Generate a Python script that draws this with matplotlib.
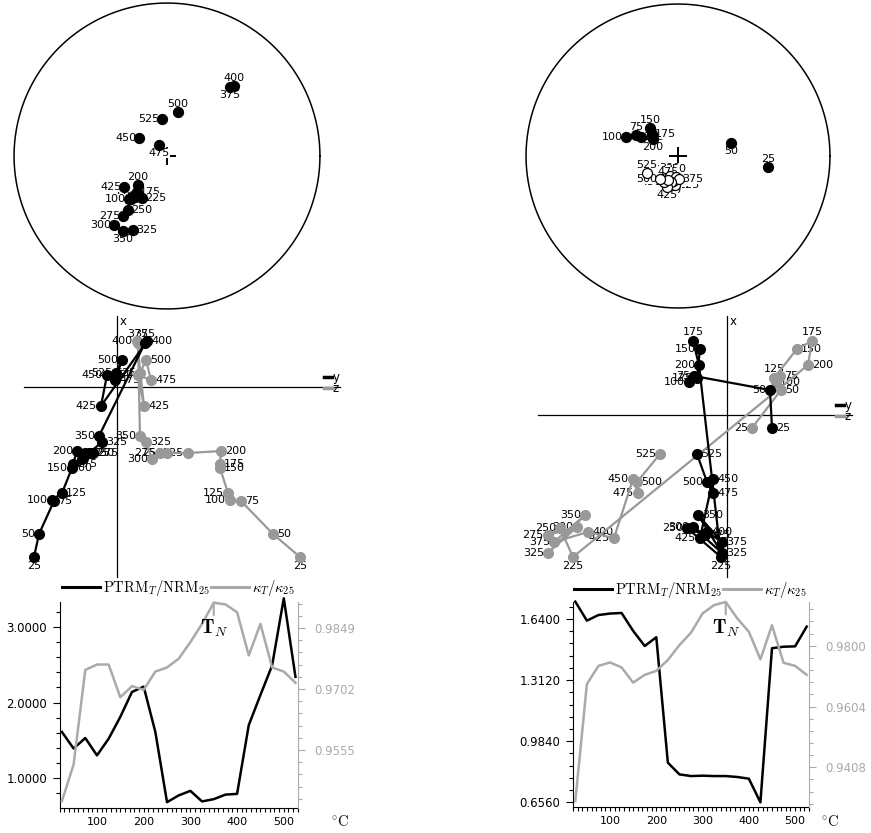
import numpy as np
import matplotlib
matplotlib.use("Agg")
import matplotlib.pyplot as plt
from matplotlib.lines import Line2D
from matplotlib.ticker import MultipleLocator, FormatStrFormatter

plt.rcParams['font.family'] = ['DejaVu Sans']
plt.rcParams['mathtext.fontset'] = 'cm'

W, H = 871, 833
GRAY_Z = '#999999'
GRAY_K = '#aaaaaa'

# demagnetisation steps (deg C)
temps = [25, 50, 75, 100, 125, 150, 175, 200, 225, 250, 275,
         300, 325, 350, 375, 400, 425, 450, 475, 500, 525]

# ---- stereonets: projected (east, north), unit = net radius ----
netL_e = [-0.190, -0.222, -0.235, -0.248, -0.209, -0.203, -0.196, -0.190, -0.163, -0.255, -0.288,
          -0.346, -0.222, -0.288, 0.412, 0.438, -0.281, -0.183, -0.052, 0.072, -0.033]
netL_n = [-0.261, -0.261, -0.281, -0.281, -0.268, -0.248, -0.235, -0.190, -0.275, -0.353, -0.392,
          -0.451, -0.484, -0.490, 0.451, 0.458, -0.203, 0.118, 0.072, 0.288, 0.242]
netL_down = [True] * 21
netL_lab = ['r', 'l', 'l', 'l', 'r', 'r', 'r', 't', 'r', 'r', 'l',
            'l', 'r', 'b', 'b', 't', 'l', 'l', 'b', 't', 'l']

netR_e = [0.592, 0.349, -0.276, -0.342, -0.243, -0.184, -0.171, -0.164, -0.020, -0.105, -0.079,
          -0.053, -0.033, -0.013, 0.007, -0.046, -0.072, -0.092, -0.066, -0.118, -0.204]
netR_n = [-0.072, 0.086, 0.138, 0.125, 0.125, 0.184, 0.145, 0.112, -0.191, -0.151, -0.145,
          -0.132, -0.164, -0.138, -0.151, -0.171, -0.204, -0.171, -0.158, -0.151, -0.112]
netR_down = [True] * 8 + [False] * 13
netR_lab = ['t', 'b', 't', 'l', 'r', 't', 'r', 'b', 'r', 'l', 't',
            't', 'r', 't', 'r', 'b', 'b', 'l', 't', 'l', 't']

# ---- Zijderveld components (arbitrary units) ----
zijL_x = [-1.70, -1.47, -1.14, -1.13, -1.06, -0.81, -0.77, -0.64, -0.66, -0.66, -0.66,
          -0.72, -0.55, -0.49, 0.44, 0.46, -0.19, 0.12, 0.07, 0.27, 0.14]
zijL_y = [-0.83, -0.78, -0.63, -0.65, -0.55, -0.45, -0.44, -0.40, -0.32, -0.28, -0.24,
          -0.35, -0.15, -0.18, 0.28, 0.30, -0.16, -0.10, -0.02, 0.05, -0.01]
zijL_z = [1.83, 1.56, 1.24, 1.13, 1.11, 1.03, 1.03, 1.04, 0.71, 0.50, 0.43,
          0.35, 0.29, 0.23, 0.21, 0.20, 0.27, 0.21, 0.34, 0.29, 0.23]
zijL_lab_y = ['b', 'l', 'r', 'l', 'r', 'l', 'r', 'l', 'r', 'r', 'r',
              'b', 'r', 'l', 't', 'r', 'l', 'l', 'r', 'l', 'l']
zijL_lab_z = ['b', 'r', 'r', 'l', 'l', 'r', 'r', 'r', 'l', 'l', 'l',
              'l', 'r', 'l', 't', 'l', 'r', 'l', 'r', 'r', 'l']

zijR_x = [-0.13, 0.25, 0.39, 0.33, 0.37, 0.66, 0.74, 0.50, -1.42, -1.13, -1.20,
          -1.12, -1.38, -1.00, -1.27, -1.17, -1.23, -0.64, -0.78, -0.67, -0.39]
zijR_y = [0.45, 0.43, -0.33, -0.38, -0.30, -0.27, -0.34, -0.28, -0.06, -0.40, -0.22,
          -0.34, -0.05, -0.29, -0.05, -0.20, -0.27, -0.14, -0.14, -0.20, -0.30]
zijR_z = [0.25, 0.54, 0.53, 0.49, 0.47, 0.70, 0.85, 0.81, -1.54, -1.67, -1.79,
          -1.50, -1.79, -1.42, -1.73, -1.39, -1.13, -0.94, -0.89, -0.90, -0.67]
zijR_lab_y = ['r', 'l', 'l', 'l', 'l', 'l', 't', 'l', 'b', 'l', 'r',
              'l', 'r', 'r', 'r', 'r', 'l', 'r', 'r', 'l', 'r']
zijR_lab_z = ['l', 'r', 'r', 'r', 't', 'r', 't', 'r', 'b', 'l', 'l',
              'l', 'l', 'l', 'l', 'r', 'l', 'l', 'l', 'r', 'l']

# ---- thermal curves ----
ptrmL = [1.61, 1.39, 1.53, 1.30, 1.52, 1.81, 2.14, 2.21, 1.61, 0.68, 0.77,
         0.83, 0.69, 0.72, 0.78, 0.79, 1.70, 2.10, 2.49, 3.38, 2.34]
kapL = [0.9432, 0.9520, 0.9748, 0.9761, 0.9761, 0.9682, 0.9709, 0.9700, 0.9744, 0.9754, 0.9775,
        0.9815, 0.9859, 0.9910, 0.9906, 0.9887, 0.9783, 0.9859, 0.9754, 0.9744, 0.9717]
ptrmR = [1.733, 1.631, 1.661, 1.669, 1.672, 1.576, 1.495, 1.542, 0.869, 0.806, 0.797,
         0.799, 0.797, 0.797, 0.792, 0.783, 0.656, 1.483, 1.491, 1.493, 1.599]
kapR = [0.9299, 0.9676, 0.9735, 0.9746, 0.9730, 0.9681, 0.9706, 0.9719, 0.9754, 0.9802, 0.9842,
        0.9904, 0.9931, 0.9941, 0.9888, 0.9845, 0.9756, 0.9866, 0.9745, 0.9735, 0.9706]

fig = plt.figure(figsize=(W / 100, H / 100), dpi=100)


def px_axes(x0, y0, x1, y1):
    return fig.add_axes([x0 / W, 1 - y1 / H, (x1 - x0) / W, (y1 - y0) / H])


def put_label(ax, t, x, y, code, off, box=False):
    dx, dy, ha, va = {'l': (-off, 0, 'right', 'center'), 'r': (off, 0, 'left', 'center'),
                      't': (0, off, 'center', 'bottom'), 'b': (0, -off, 'center', 'top')}[code]
    kw = dict(bbox=dict(fc='white', ec='none', pad=0)) if box else {}
    ax.annotate(str(t), (x, y), xytext=(dx, dy), textcoords='offset points',
                ha=ha, va=va, fontsize=8, zorder=2, **kw)


def draw_net(rect, east, north, down, codes):
    ax = px_axes(*rect)
    ax.set_xlim(-1.02, 1.02)
    ax.set_ylim(-1.02, 1.02)
    ax.axis('off')
    th = np.linspace(0, 2 * np.pi, 400)
    ax.plot(np.cos(th), np.sin(th), color='black', lw=1.1, clip_on=False)
    ax.plot(0, 0, marker='+', ms=13, mew=1.4, color='black', zorder=1)
    for t, e, n, d, c in zip(temps, east, north, down, codes):
        ax.plot(e, n, 'o', ms=7.2, mfc='black' if d else 'white', mec='black', mew=0.9, zorder=3)
        put_label(ax, t, e, n, c, 2, box=True)


def draw_zij(rect, origin, X, Y, Z, lab_y, lab_z, leg_px):
    x0, y0, x1, y1 = rect
    ox, oy = origin
    ax = px_axes(*rect)
    ax.set_xlim((x0 - ox) / 100, (x1 - ox) / 100)
    ax.set_ylim((oy - y1) / 100, (oy - y0) / 100)
    ax.axis('off')
    X, Y, Z = map(np.asarray, (X, Y, Z))
    hz = np.concatenate([Y, Z])
    top = X.max() + 0.25
    ax.plot([hz.min() - 0.1, hz.max() + 0.4], [0, 0], color='black', lw=0.9, zorder=1)
    ax.plot([0, 0], [X.min() - 0.2, top], color='black', lw=0.9, zorder=1)
    ax.annotate('x', (0, top), xytext=(2, 1), textcoords='offset points',
                ha='left', va='top', fontsize=8.5)
    ax.plot(Z, X, '-o', color=GRAY_Z, lw=1.6, ms=7, zorder=3)
    ax.plot(Y, X, '-o', color='black', lw=1.6, ms=7, zorder=4)
    for t, x, y, z, cy, cz in zip(temps, X, Y, Z, lab_y, lab_z):
        put_label(ax, t, z, x, cz, 3)
        put_label(ax, t, y, x, cy, 3)
    hd = [Line2D([], [], color='black', lw=2.5), Line2D([], [], color=GRAY_Z, lw=2.5)]
    ax.legend(hd, ['y', 'z'], loc='upper left', bbox_to_anchor=(leg_px[0] / W, 1 - leg_px[1] / H),
              bbox_transform=fig.transFigure, frameon=False, fontsize=8.5, handlelength=0.65,
              handletextpad=0.1, labelspacing=-0.15, borderpad=0, borderaxespad=0)


def draw_curves(rect, ptrm, kap, ylim, yticks, yminor, klim, kticks, kminor, leg_px, degc_px):
    ax = px_axes(*rect)
    ax.plot(temps, ptrm, color='black', lw=1.8, clip_on=False)
    ax.set_xlim(20, 530)
    ax.set_ylim(*ylim)
    ax.set_xticks([100, 200, 300, 400, 500])
    ax.xaxis.set_minor_locator(MultipleLocator(10))
    ax.set_yticks(yticks)
    ax.yaxis.set_minor_locator(MultipleLocator(yminor))
    ax.yaxis.set_major_formatter(FormatStrFormatter('%.4f'))
    for s in ('top', 'right'):
        ax.spines[s].set_visible(False)
    ax.spines['left'].set_linewidth(0.8)
    ax.spines['bottom'].set_linewidth(0.8)
    ax.tick_params(axis='y', which='major', length=5, width=0.8, labelsize=8.5, pad=4)
    ax.tick_params(axis='y', which='minor', length=3, width=0.8)
    ax.tick_params(axis='x', which='both', length=3, width=0.8, labelsize=8)

    ax2 = ax.twinx()
    ax2.plot(temps, kap, color=GRAY_K, lw=1.8, clip_on=False)
    ax2.set_ylim(*klim)
    ax2.set_yticks(kticks)
    ax2.yaxis.set_minor_locator(MultipleLocator(kminor))
    ax2.yaxis.set_major_formatter(FormatStrFormatter('%.4f'))
    for s in ('top', 'left', 'bottom'):
        ax2.spines[s].set_visible(False)
    ax2.spines['right'].set_color(GRAY_K)
    ax2.spines['right'].set_linewidth(0.8)
    ax2.tick_params(axis='y', which='major', length=5, width=0.8, colors=GRAY_K,
                    labelsize=8.5, pad=7)
    ax2.tick_params(axis='y', which='minor', length=3, width=0.8, colors=GRAY_K)

    # Neel temperature at the susceptibility peak
    i = int(np.argmax(kap))
    tn = temps[i]
    ax2.annotate('', xy=(tn, kap[i]), xytext=(0, -9), textcoords='offset points',
                 arrowprops=dict(arrowstyle='-', color=GRAY_K, lw=1.5, shrinkA=0, shrinkB=0))
    ax2.annotate(r'$\mathbf{T}_N$', xy=(tn, kap[i]), xytext=(0, -11), textcoords='offset points',
                 ha='center', va='top', fontsize=14)

    hd = [Line2D([], [], color='black', lw=2.2), Line2D([], [], color=GRAY_K, lw=2.2)]
    ax2.legend(hd, [r'$\mathrm{PTRM}_T/\mathrm{NRM}_{25}$', r'$\kappa_T/\kappa_{25}$'],
               loc='lower left', bbox_to_anchor=(leg_px[0] / W, 1 - leg_px[1] / H),
               bbox_transform=fig.transFigure, ncol=2, frameon=False, fontsize=10.5,
               handlelength=2.6, handletextpad=0.2, columnspacing=0.1,
               borderpad=0, borderaxespad=0)
    fig.text(degc_px[0] / W, 1 - degc_px[1] / H, r'$^{\circ}\mathrm{C}$',
             ha='center', va='center', fontsize=10.5)


draw_net((11, 0, 323, 312), netL_e, netL_n, netL_down, netL_lab)
draw_net((523, 1, 833, 311), netR_e, netR_n, netR_down, netR_lab)

draw_zij((0, 312, 435, 580), (117, 387), zijL_x, zijL_y, zijL_z, zijL_lab_y, zijL_lab_z, (324, 371))
draw_zij((435, 312, 871, 580), (727, 415), zijR_x, zijR_y, zijR_z, zijR_lab_y, zijR_lab_z, (836, 399))

draw_curves((59.6, 602, 297.8, 808), ptrmL, kapL, (0.603, 3.331), [1.0, 2.0, 3.0], 0.2,
            (0.94152, 0.99117), [0.9555, 0.9702, 0.9849], 0.00294, (62, 598), (340, 822))
draw_curves((573, 602, 809, 807), ptrmR, kapR, (0.631, 1.731), [0.656, 0.984, 1.312, 1.640], 0.0656,
            (0.9280, 0.99409), [0.9408, 0.9604, 0.9800], 0.00392, (574, 600), (830, 822))

fig.savefig('out.png', dpi=100)
